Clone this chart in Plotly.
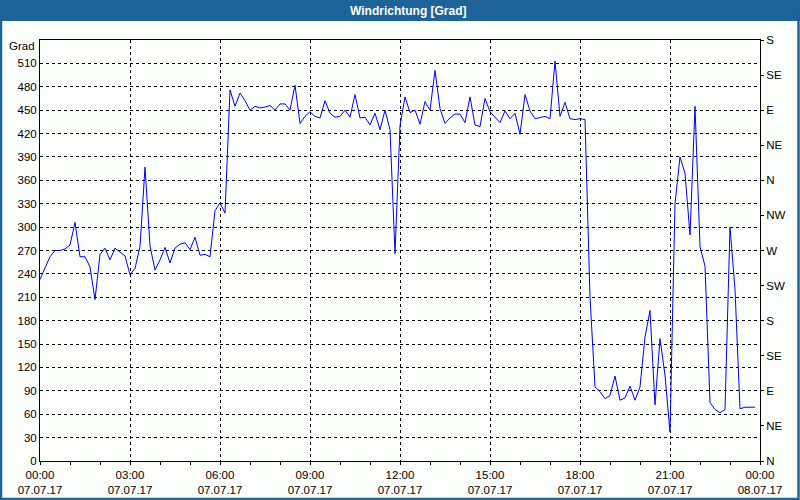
import plotly.graph_objects as go
import pandas as pd

# wind direction in degrees, one value every 10 minutes from 07.07.17 00:00
start = "2017-07-07 00:00"
end = "2017-07-08 00:00"
direction = [
    233, 248, 262, 270, 270, 272, 277, 306, 262, 262, 249, 207,
    265, 273, 258, 273, 268, 263, 239, 247, 275, 377, 276, 245,
    258, 274, 254, 273, 278, 280, 271, 287, 264, 265, 262, 321,
    331, 318, 476, 455, 472, 462, 450, 455, 453, 454, 456, 450,
    458, 458, 450, 482, 433, 442, 448, 442, 440, 462, 446, 441,
    442, 450, 441, 470, 440, 441, 431, 446, 425, 450, 425, 266,
    430, 467, 447, 450, 432, 461, 450, 501, 452, 433, 440, 445,
    445, 434, 467, 431, 429, 465, 448, 441, 434, 449, 439, 446,
    419, 470, 449, 439, 441, 442, 439, 513, 442, 460, 439, 438,
    439, 438, 210, 95, 89, 80, 84, 109, 78, 81, 96, 78,
    95, 159, 193, 72, 157, 110, 37, 330, 390, 369, 290, 455,
    275, 250, 75, 66, 62, 66, 300, 220, 67, 69, 69, 69,
]
times = pd.date_range(start, periods=len(direction), freq="10min")

y_ticks = list(range(0, 511, 30))
compass_vals = list(range(0, 541, 45))
compass_text = ["N", "NE", "E", "SE", "S", "SW", "W", "NW", "N", "NE", "E", "SE", "S"]
x_ticks = pd.date_range(start, end, freq="3h")
x_text = [f"{t:%H:%M}<br>{t:%d.%m.%y}" for t in x_ticks]

W, H = 800, 500
L, R, T, B = 40, 760, 40, 461
band = "#1d6397"
font = "Liberation Sans"


def px(x):
    return (x - L) / (R - L)


def py(y):
    return (B - y) / (B - T)


fig = go.Figure()

fig.add_trace(go.Scatter(
    x=times, y=direction,
    mode="lines",
    line=dict(color="#0000ff", width=1),
    hoverinfo="skip",
))
# invisible trace so the right axis is drawn
fig.add_trace(go.Scatter(
    x=[times[0]], y=[0], yaxis="y2",
    mode="markers", marker=dict(opacity=0),
    hoverinfo="skip",
))

grid = dict(showgrid=True, gridcolor="black", gridwidth=1, griddash="3px,3px")

fig.update_layout(
    width=W, height=H,
    margin=dict(l=L, r=W - R, t=T, b=H - B),
    paper_bgcolor="#fcfefc",
    plot_bgcolor="#fcfefc",
    showlegend=False,
    font=dict(family=font, size=11.5, color="black"),
    xaxis=dict(
        type="date", range=[start, end], automargin=False,
        tickvals=x_ticks, ticktext=x_text,
        ticks="outside", ticklen=3, tickcolor="black",
        minor=dict(dtick=3600000, tick0=start, ticks="outside", ticklen=3,
                   tickcolor="black", showgrid=False),
        showline=True, linecolor="black", linewidth=1, mirror=True,
        zeroline=False, **grid,
    ),
    yaxis=dict(
        range=[0, 540], tickvals=y_ticks, ticks="", automargin=False,
        showline=True, linecolor="black", linewidth=1, mirror=True,
        zeroline=False, **grid,
    ),
    yaxis2=dict(
        range=[0, 540], overlaying="y", side="right", automargin=False,
        tickvals=compass_vals, ticktext=compass_text,
        ticks="outside", ticklen=3, tickcolor="black",
        showgrid=False, zeroline=False, showline=False,
    ),
    shapes=[
        dict(type="rect", xref="paper", yref="paper", layer="above",
             x0=px(0), x1=px(W), y0=py(21), y1=py(0),
             fillcolor=band, line=dict(width=0)),
        dict(type="rect", xref="paper", yref="paper", layer="above",
             x0=px(1), x1=px(W - 1.5), y0=py(H - 1), y1=py(10),
             line=dict(color=band, width=2.5)),
    ],
    annotations=[
        dict(text="<b>Windrichtung [Grad]</b>", xref="paper", yref="paper",
             x=px(409), y=py(10.5), xanchor="center", yanchor="middle",
             showarrow=False, font=dict(color="white", size=12, family=font)),
        dict(text="Grad", xref="paper", yref="paper",
             x=px(37), y=py(46), xanchor="right", yanchor="middle",
             showarrow=False, font=dict(size=11.5, family=font)),
    ],
)

# the page's default body margin would push the 800x500 figure off the window
fig.write_html("out.html", config={"displayModeBar": False},
               post_script="document.body.style.margin = '0';")
